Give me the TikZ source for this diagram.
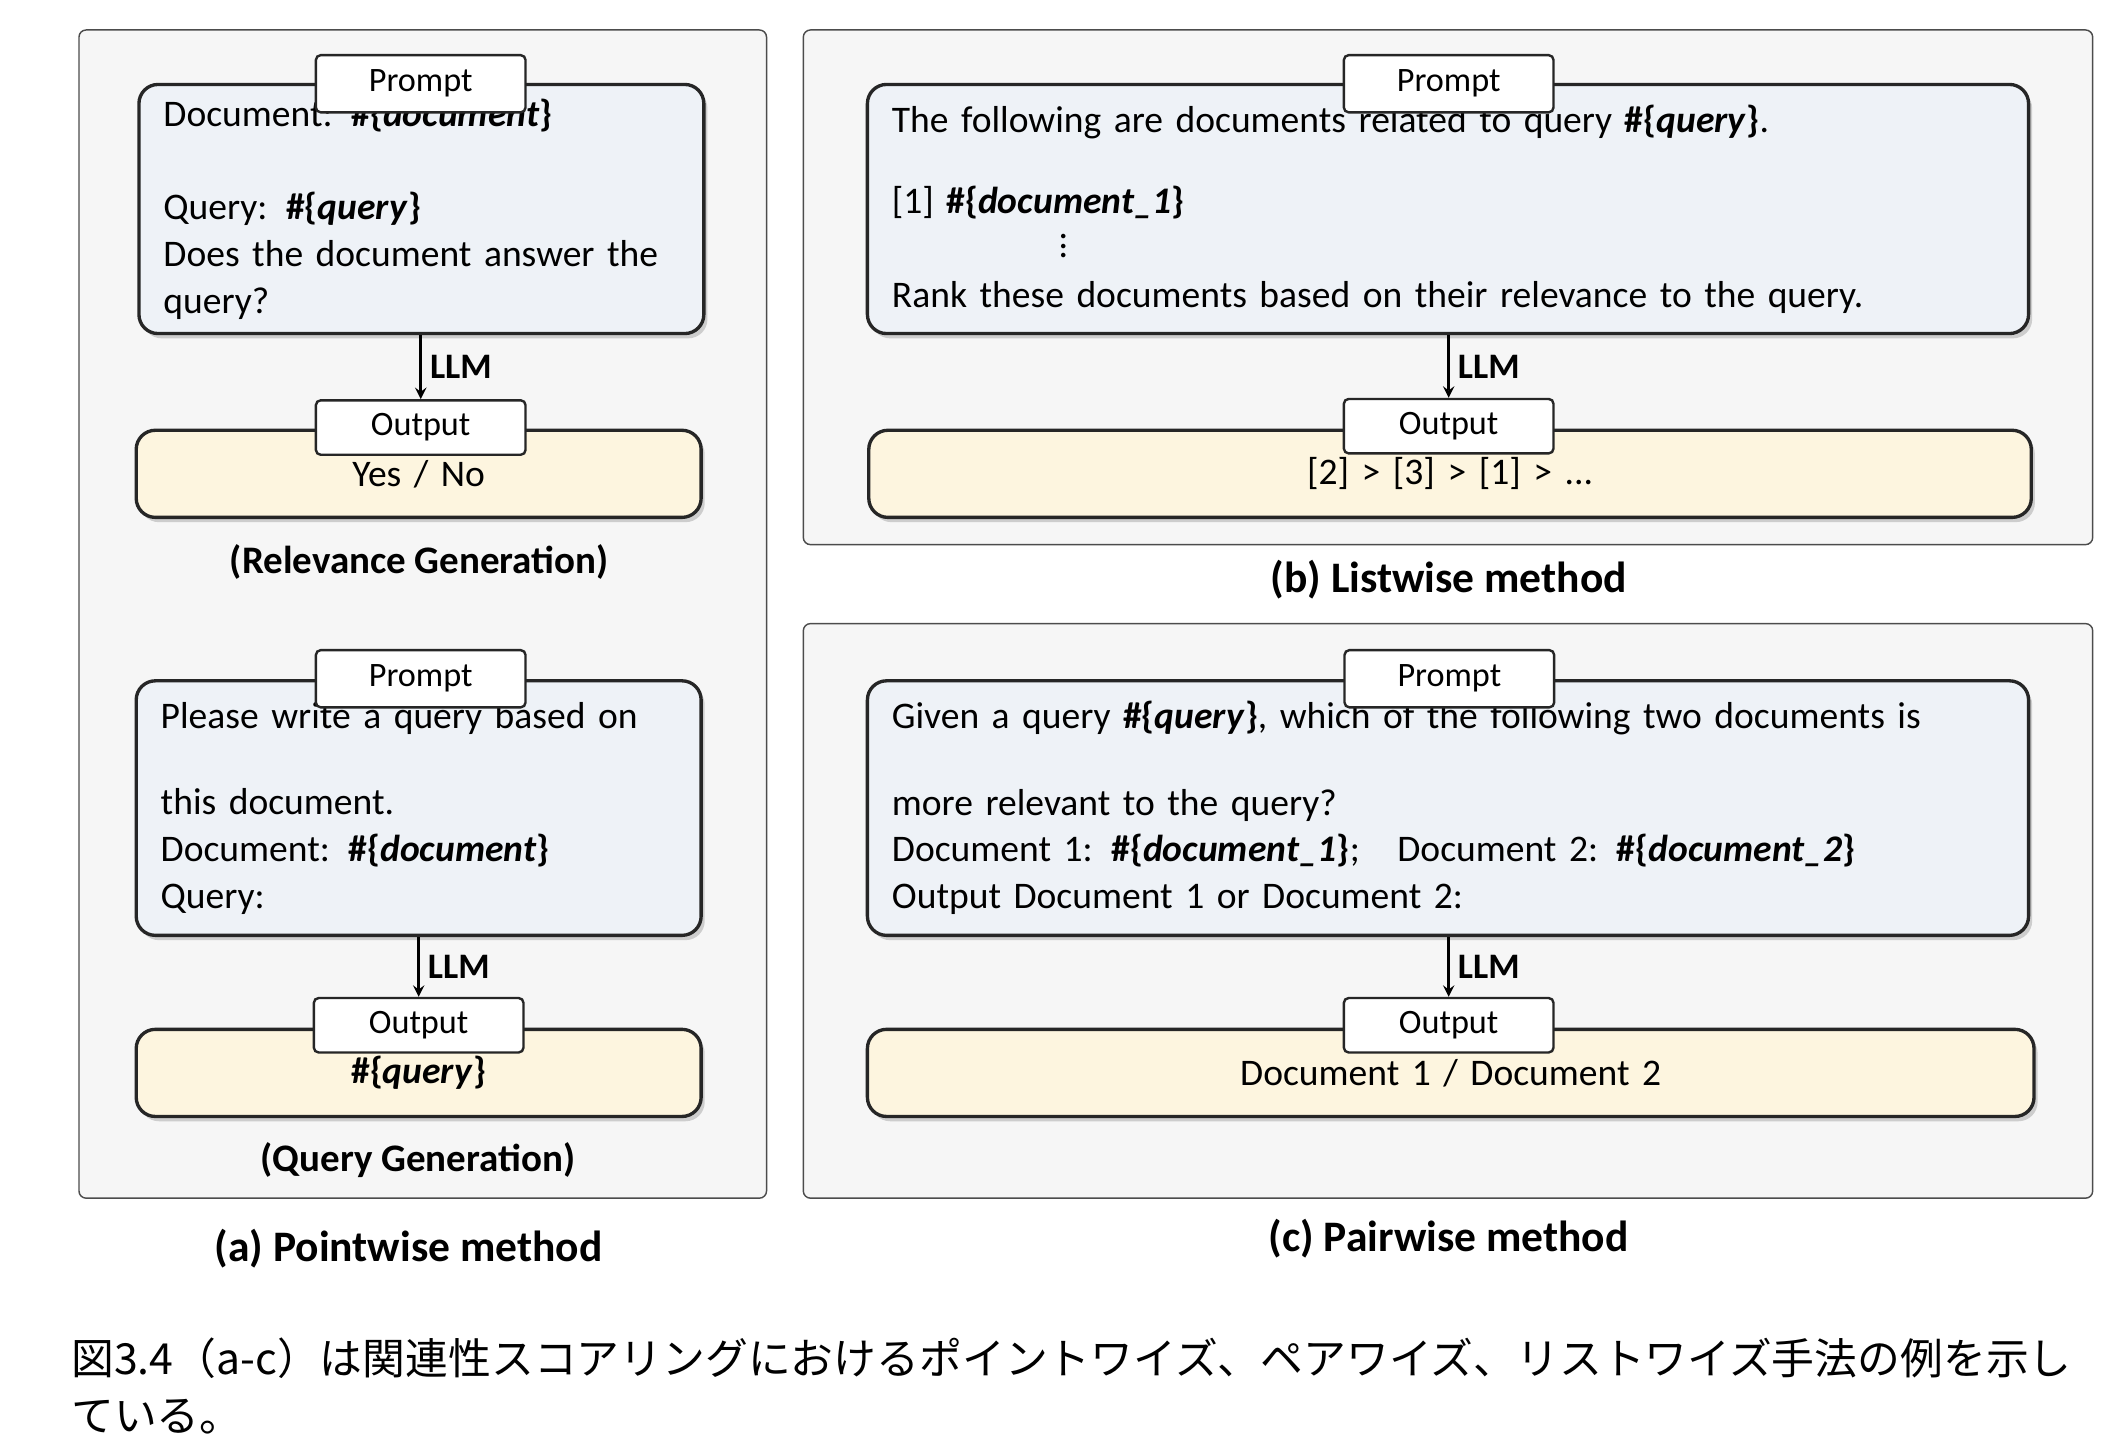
\documentclass[tikz,border=0pt]{standalone}
\usepackage{fontspec}
\setmainfont{Carlito}
\newfontfamily\cjk{Noto Sans CJK JP}
\usetikzlibrary{shadows}
\definecolor{panelgray}{HTML}{F6F6F6}
\definecolor{promptblue}{HTML}{EEF2F7}
\definecolor{outyellow}{HTML}{FDF5DF}
\tikzset{
  panel/.style={draw=black!70,fill=panelgray,rounded corners=3pt,line width=0.6pt},
  box/.style={draw=black!85,line width=1.4pt,rounded corners=8pt,drop shadow={shadow xshift=1.5pt,shadow yshift=-2pt,fill=black!35},
    inner xsep=0.36cm,align=left,font=\fontsize{15.7}{19.6}\selectfont},
  pbox/.style={box,fill=promptblue},
  obox/.style={box,fill=outyellow,align=center},
  tag/.style={draw=black!85,fill=white,line width=1pt,rounded corners=2pt,minimum width=3.08cm,minimum height=0.84cm,font=\fontsize{14.3}{16}\selectfont},
  llm/.style={-stealth,line width=1.1pt},
  llmlb/.style={right,font=\bfseries\fontsize{15}{17}\selectfont},
  sub/.style={font=\bfseries\fontsize{16.3}{19}\selectfont},
  panelcap/.style={font=\bfseries\fontsize{18.2}{21}\selectfont}
}
\newcommand{\ph}[1]{\textbf{\#\{\textit{#1}\}}}
\begin{document}
\begin{tikzpicture}[x=0.02cm,y=-0.02cm]
\useasboundingbox (0,0) rectangle (1560,1066);
% panels
\draw[panel] (58,22) rectangle (563,880);
\draw[panel] (590,22) rectangle (1537,400);
\draw[panel] (590,458) rectangle (1537,880);
% (a) relevance generation
\node[pbox,minimum width=8.3cm,minimum height=3.66cm,text width=7.58cm] (aprompt) at (309.5,153.5)
  {\vspace*{0.68cm}Document: \ph{document}\\Query: \ph{query}\\Does the document answer the\\query?};
\node[tag] (aptag) at (309,61.5) {Prompt};
\node[obox,minimum width=8.3cm,minimum height=1.28cm,text width=7.58cm] (aout) at (307.5,348) {Yes / No};
\node[tag,minimum height=0.8cm] (aotag) at (309,314) {Output};
\draw[llm] (aprompt.south -| aotag) -- (aotag.north) node[llmlb,midway] (allm) {LLM};
\node[sub] (arel) at (308,413) {(Relevance Generation)};
% (a) query generation
\node[pbox,minimum width=8.3cm,minimum height=3.74cm,text width=7.58cm] (qprompt) at (307.5,593.5)
  {\vspace*{0.58cm}Please write a query based on\\this document.\\Document: \ph{document}\\Query:};
\node[tag] (qptag) at (309,498.5) {Prompt};
\node[obox,minimum width=8.3cm,minimum height=1.28cm,text width=7.58cm] (qout) at (307.5,788) {\ph{query}};
\node[tag,minimum height=0.8cm] (qotag) at (307.5,753) {Output};
\draw[llm] (qprompt.south -| qotag) -- (qotag.north) node[llmlb,midway] (qllm) {LLM};
\node[sub] (qgen) at (307,852) {(Query Generation)};
\node[panelcap] (acap) at (300,917) {(a) Pointwise method};
% (b) listwise
\node[pbox,minimum width=17.06cm,minimum height=3.66cm,text width=16.34cm] (bprompt) at (1063.5,153.5)
  {\vspace*{0.5cm}The following are documents related to query \ph{query}.\\{}[1] \ph{document\_1}\\[-1pt]\hspace{2.45cm}$\vdots$\\[1pt]Rank these documents based on their relevance to the query.};
\node[tag] (bptag) at (1064,61.5) {Prompt};
\node[obox,minimum width=17.08cm,minimum height=1.28cm,text width=16.36cm] (bout) at (1065,348) {[2] > [3] > [1] > ...};
\node[tag,minimum height=0.8cm] (botag) at (1064,313) {Output};
\draw[llm] (bprompt.south -| botag) -- (botag.north) node[llmlb,midway] (bllm) {LLM};
\node[panelcap] (bcap) at (1064,426) {(b) Listwise method};
% (c) pairwise
\node[pbox,minimum width=17.06cm,minimum height=3.74cm,text width=16.34cm] (cprompt) at (1063.5,593.5)
  {\vspace*{0.58cm}Given a query \ph{query}, which of the following two documents is\\more relevant to the query?\\Document 1: \ph{document\_1};\quad Document 2: \ph{document\_2}\\Output Document 1 or Document 2:};
\node[tag] (cptag) at (1064.5,498.5) {Prompt};
\node[obox,minimum width=17.14cm,minimum height=1.28cm,text width=16.42cm] (cout) at (1065.5,788) {Document 1 / Document 2};
\node[tag,minimum height=0.8cm] (cotag) at (1064,753) {Output};
\draw[llm] (cprompt.south -| cotag) -- (cotag.north) node[llmlb,midway] (cllm) {LLM};
\node[panelcap] (ccap) at (1064,910) {(c) Pairwise method};
% caption
\node[anchor=north west,align=left,inner sep=0pt,font=\cjk\fontsize{17.9}{24}\selectfont] (figcap) at (52,982)
  {図3.4（a-c）は関連性スコアリングにおけるポイントワイズ、ペアワイズ、リストワイズ手法の例を示し\\ている。};
\end{tikzpicture}
\end{document}
